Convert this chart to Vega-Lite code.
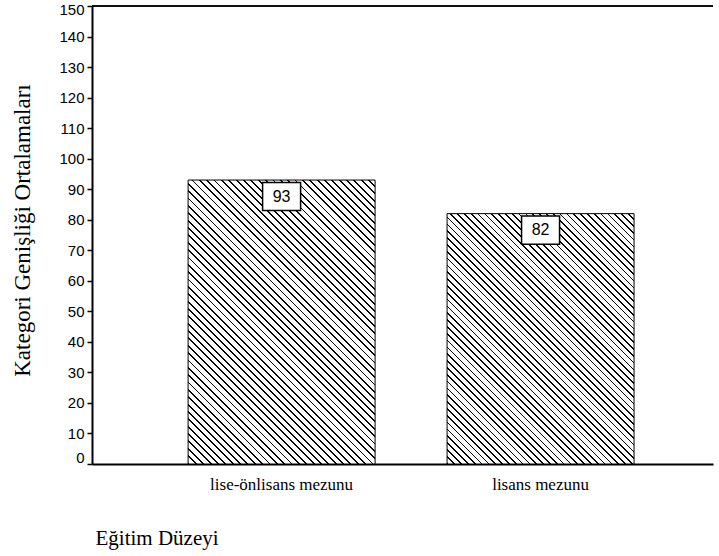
{
"$schema": "https://vega.github.io/schema/vega-lite/v6.json",
"width": 621, "height": 458,
"autosize": "none",
"padding": {"left": 92, "top": 6, "right": 6, "bottom": 92},
"background": "white",
"config": {
"view": {"stroke": null},
"axisY": {"grid": false, "domainColor": "black", "domainWidth": 2, "tickColor": "black", "tickSize": 5, "tickWidth": 1.5,
"labelFont": "Liberation Sans", "labelFontSize": 15, "labelColor": "black", "labelPadding": 3,
"titleFont": "Liberation Serif", "titleFontSize": 23, "titleFontWeight": "normal", "titleColor": "black"},
"axisX": {"grid": false, "ticks": false, "domainColor": "black", "domainWidth": 2, "labelAngle": 0,
"labelFont": "Liberation Serif", "labelFontSize": 17, "labelColor": "black", "labelPadding": 12,
"titleFont": "Liberation Serif", "titleFontSize": 21, "titleFontWeight": "normal", "titleColor": "black"}
},
"datasets": {
"stripes": [0]
},
"data": {"values": [{"level": "lise-önlisans mezunu", "mean": 93}, {"level": "lisans mezunu", "mean": 82}]},
"encoding": {
"x": {"field": "level", "type": "nominal", "sort": null,
"scale": {"domain": ["lise-önlisans mezunu", "lisans mezunu"], "paddingInner": 0.278, "paddingOuter": 0.338, "align": 0.549},
"axis": {"title": "Eğitim Düzeyi", "labelFont": "Liberation Serif", "labelFontSize": 17, "titleAnchor": "start", "titleAlign": "left", "titleX": 3, "titleY": 80, "titleBaseline": "alphabetic"}},
"y": {"field": "mean", "type": "quantitative", "scale": {"domain": [0, 150], "nice": false, "zero": true},
"axis": {"values": [0,10,20,30,40,50,60,70,80,90,100,110,120,130,140,150],
"labelOffset": {"condition": [{"test": "datum.value == 150", "value": 3}, {"test": "datum.value == 0", "value": -7}], "value": 0},
"title": "Kategori Genişliği Ortalamaları", "titleX": -70, "titleY": 224, "titleAlign": "center", "titleBaseline": "middle", "titleAngle": -90}}
},
"layer": [
{
"transform": [{"filter": "datum.level == 'lise-önlisans mezunu'"}],
"mark": {"type": "bar", "stroke": "black", "strokeWidth": 1,
"fill": {"gradient": "linear", "x1": 0, "y1": 1, "x2": 0.76174, "y2": -0.15688, "stops": [
{"offset":0,"color":"#000"},{"offset":0.00390625,"color":"#000"},{"offset":0.00390625,"color":"#fff"},
{"offset":0.015625,"color":"#fff"},{"offset":0.015625,"color":"#000"},{"offset":0.01953125,"color":"#000"},{"offset":0.01953125,"color":"#fff"},
{"offset":0.03125,"color":"#fff"},{"offset":0.03125,"color":"#000"},{"offset":0.03515625,"color":"#000"},{"offset":0.03515625,"color":"#fff"},
{"offset":0.046875,"color":"#fff"},{"offset":0.046875,"color":"#000"},{"offset":0.05078125,"color":"#000"},{"offset":0.05078125,"color":"#fff"},
{"offset":0.0625,"color":"#fff"},{"offset":0.0625,"color":"#000"},{"offset":0.06640625,"color":"#000"},{"offset":0.06640625,"color":"#fff"},
{"offset":0.078125,"color":"#fff"},{"offset":0.078125,"color":"#000"},{"offset":0.08203125,"color":"#000"},{"offset":0.08203125,"color":"#fff"},
{"offset":0.09375,"color":"#fff"},{"offset":0.09375,"color":"#000"},{"offset":0.09765625,"color":"#000"},{"offset":0.09765625,"color":"#fff"},
{"offset":0.109375,"color":"#fff"},{"offset":0.109375,"color":"#000"},{"offset":0.11328125,"color":"#000"},{"offset":0.11328125,"color":"#fff"},
{"offset":0.125,"color":"#fff"},{"offset":0.125,"color":"#000"},{"offset":0.12890625,"color":"#000"},{"offset":0.12890625,"color":"#fff"},
{"offset":0.140625,"color":"#fff"},{"offset":0.140625,"color":"#000"},{"offset":0.14453125,"color":"#000"},{"offset":0.14453125,"color":"#fff"},
{"offset":0.15625,"color":"#fff"},{"offset":0.15625,"color":"#000"},{"offset":0.16015625,"color":"#000"},{"offset":0.16015625,"color":"#fff"},
{"offset":0.171875,"color":"#fff"},{"offset":0.171875,"color":"#000"},{"offset":0.17578125,"color":"#000"},{"offset":0.17578125,"color":"#fff"},
{"offset":0.1875,"color":"#fff"},{"offset":0.1875,"color":"#000"},{"offset":0.19140625,"color":"#000"},{"offset":0.19140625,"color":"#fff"},
{"offset":0.203125,"color":"#fff"},{"offset":0.203125,"color":"#000"},{"offset":0.20703125,"color":"#000"},{"offset":0.20703125,"color":"#fff"},
{"offset":0.21875,"color":"#fff"},{"offset":0.21875,"color":"#000"},{"offset":0.22265625,"color":"#000"},{"offset":0.22265625,"color":"#fff"},
{"offset":0.234375,"color":"#fff"},{"offset":0.234375,"color":"#000"},{"offset":0.23828125,"color":"#000"},{"offset":0.23828125,"color":"#fff"},
{"offset":0.25,"color":"#fff"},{"offset":0.25,"color":"#000"},{"offset":0.25390625,"color":"#000"},{"offset":0.25390625,"color":"#fff"},
{"offset":0.265625,"color":"#fff"},{"offset":0.265625,"color":"#000"},{"offset":0.26953125,"color":"#000"},{"offset":0.26953125,"color":"#fff"},
{"offset":0.28125,"color":"#fff"},{"offset":0.28125,"color":"#000"},{"offset":0.28515625,"color":"#000"},{"offset":0.28515625,"color":"#fff"},
{"offset":0.296875,"color":"#fff"},{"offset":0.296875,"color":"#000"},{"offset":0.30078125,"color":"#000"},{"offset":0.30078125,"color":"#fff"},
{"offset":0.3125,"color":"#fff"},{"offset":0.3125,"color":"#000"},{"offset":0.31640625,"color":"#000"},{"offset":0.31640625,"color":"#fff"},
{"offset":0.328125,"color":"#fff"},{"offset":0.328125,"color":"#000"},{"offset":0.33203125,"color":"#000"},{"offset":0.33203125,"color":"#fff"},
{"offset":0.34375,"color":"#fff"},{"offset":0.34375,"color":"#000"},{"offset":0.34765625,"color":"#000"},{"offset":0.34765625,"color":"#fff"},
{"offset":0.359375,"color":"#fff"},{"offset":0.359375,"color":"#000"},{"offset":0.36328125,"color":"#000"},{"offset":0.36328125,"color":"#fff"},
{"offset":0.375,"color":"#fff"},{"offset":0.375,"color":"#000"},{"offset":0.37890625,"color":"#000"},{"offset":0.37890625,"color":"#fff"},
{"offset":0.390625,"color":"#fff"},{"offset":0.390625,"color":"#000"},{"offset":0.39453125,"color":"#000"},{"offset":0.39453125,"color":"#fff"},
{"offset":0.40625,"color":"#fff"},{"offset":0.40625,"color":"#000"},{"offset":0.41015625,"color":"#000"},{"offset":0.41015625,"color":"#fff"},
{"offset":0.421875,"color":"#fff"},{"offset":0.421875,"color":"#000"},{"offset":0.42578125,"color":"#000"},{"offset":0.42578125,"color":"#fff"},
{"offset":0.4375,"color":"#fff"},{"offset":0.4375,"color":"#000"},{"offset":0.44140625,"color":"#000"},{"offset":0.44140625,"color":"#fff"},
{"offset":0.453125,"color":"#fff"},{"offset":0.453125,"color":"#000"},{"offset":0.45703125,"color":"#000"},{"offset":0.45703125,"color":"#fff"},
{"offset":0.46875,"color":"#fff"},{"offset":0.46875,"color":"#000"},{"offset":0.47265625,"color":"#000"},{"offset":0.47265625,"color":"#fff"},
{"offset":0.484375,"color":"#fff"},{"offset":0.484375,"color":"#000"},{"offset":0.48828125,"color":"#000"},{"offset":0.48828125,"color":"#fff"},
{"offset":0.5,"color":"#fff"},{"offset":0.5,"color":"#000"},{"offset":0.50390625,"color":"#000"},{"offset":0.50390625,"color":"#fff"},
{"offset":0.515625,"color":"#fff"},{"offset":0.515625,"color":"#000"},{"offset":0.51953125,"color":"#000"},{"offset":0.51953125,"color":"#fff"},
{"offset":0.53125,"color":"#fff"},{"offset":0.53125,"color":"#000"},{"offset":0.53515625,"color":"#000"},{"offset":0.53515625,"color":"#fff"},
{"offset":0.546875,"color":"#fff"},{"offset":0.546875,"color":"#000"},{"offset":0.55078125,"color":"#000"},{"offset":0.55078125,"color":"#fff"},
{"offset":0.5625,"color":"#fff"},{"offset":0.5625,"color":"#000"},{"offset":0.56640625,"color":"#000"},{"offset":0.56640625,"color":"#fff"},
{"offset":0.578125,"color":"#fff"},{"offset":0.578125,"color":"#000"},{"offset":0.58203125,"color":"#000"},{"offset":0.58203125,"color":"#fff"},
{"offset":0.59375,"color":"#fff"},{"offset":0.59375,"color":"#000"},{"offset":0.59765625,"color":"#000"},{"offset":0.59765625,"color":"#fff"},
{"offset":0.609375,"color":"#fff"},{"offset":0.609375,"color":"#000"},{"offset":0.61328125,"color":"#000"},{"offset":0.61328125,"color":"#fff"},
{"offset":0.625,"color":"#fff"},{"offset":0.625,"color":"#000"},{"offset":0.62890625,"color":"#000"},{"offset":0.62890625,"color":"#fff"},
{"offset":0.640625,"color":"#fff"},{"offset":0.640625,"color":"#000"},{"offset":0.64453125,"color":"#000"},{"offset":0.64453125,"color":"#fff"},
{"offset":0.65625,"color":"#fff"},{"offset":0.65625,"color":"#000"},{"offset":0.66015625,"color":"#000"},{"offset":0.66015625,"color":"#fff"},
{"offset":0.671875,"color":"#fff"},{"offset":0.671875,"color":"#000"},{"offset":0.67578125,"color":"#000"},{"offset":0.67578125,"color":"#fff"},
{"offset":0.6875,"color":"#fff"},{"offset":0.6875,"color":"#000"},{"offset":0.69140625,"color":"#000"},{"offset":0.69140625,"color":"#fff"},
{"offset":0.703125,"color":"#fff"},{"offset":0.703125,"color":"#000"},{"offset":0.70703125,"color":"#000"},{"offset":0.70703125,"color":"#fff"},
{"offset":0.71875,"color":"#fff"},{"offset":0.71875,"color":"#000"},{"offset":0.72265625,"color":"#000"},{"offset":0.72265625,"color":"#fff"},
{"offset":0.734375,"color":"#fff"},{"offset":0.734375,"color":"#000"},{"offset":0.73828125,"color":"#000"},{"offset":0.73828125,"color":"#fff"},
{"offset":0.75,"color":"#fff"},{"offset":0.75,"color":"#000"},{"offset":0.75390625,"color":"#000"},{"offset":0.75390625,"color":"#fff"},
{"offset":0.765625,"color":"#fff"},{"offset":0.765625,"color":"#000"},{"offset":0.76953125,"color":"#000"},{"offset":0.76953125,"color":"#fff"},
{"offset":0.78125,"color":"#fff"},{"offset":0.78125,"color":"#000"},{"offset":0.78515625,"color":"#000"},{"offset":0.78515625,"color":"#fff"},
{"offset":0.796875,"color":"#fff"},{"offset":0.796875,"color":"#000"},{"offset":0.80078125,"color":"#000"},{"offset":0.80078125,"color":"#fff"},
{"offset":0.8125,"color":"#fff"},{"offset":0.8125,"color":"#000"},{"offset":0.81640625,"color":"#000"},{"offset":0.81640625,"color":"#fff"},
{"offset":0.828125,"color":"#fff"},{"offset":0.828125,"color":"#000"},{"offset":0.83203125,"color":"#000"},{"offset":0.83203125,"color":"#fff"},
{"offset":0.84375,"color":"#fff"},{"offset":0.84375,"color":"#000"},{"offset":0.84765625,"color":"#000"},{"offset":0.84765625,"color":"#fff"},
{"offset":0.859375,"color":"#fff"},{"offset":0.859375,"color":"#000"},{"offset":0.86328125,"color":"#000"},{"offset":0.86328125,"color":"#fff"},
{"offset":0.875,"color":"#fff"},{"offset":0.875,"color":"#000"},{"offset":0.87890625,"color":"#000"},{"offset":0.87890625,"color":"#fff"},
{"offset":0.890625,"color":"#fff"},{"offset":0.890625,"color":"#000"},{"offset":0.89453125,"color":"#000"},{"offset":0.89453125,"color":"#fff"},
{"offset":0.90625,"color":"#fff"},{"offset":0.90625,"color":"#000"},{"offset":0.91015625,"color":"#000"},{"offset":0.91015625,"color":"#fff"},
{"offset":0.921875,"color":"#fff"},{"offset":0.921875,"color":"#000"},{"offset":0.92578125,"color":"#000"},{"offset":0.92578125,"color":"#fff"},
{"offset":0.9375,"color":"#fff"},{"offset":0.9375,"color":"#000"},{"offset":0.94140625,"color":"#000"},{"offset":0.94140625,"color":"#fff"},
{"offset":0.953125,"color":"#fff"},{"offset":0.953125,"color":"#000"},{"offset":0.95703125,"color":"#000"},{"offset":0.95703125,"color":"#fff"},
{"offset":0.96875,"color":"#fff"},{"offset":0.96875,"color":"#000"},{"offset":0.97265625,"color":"#000"},{"offset":0.97265625,"color":"#fff"},
{"offset":0.984375,"color":"#fff"},{"offset":0.984375,"color":"#000"},{"offset":0.98828125,"color":"#000"},{"offset":0.98828125,"color":"#fff"},
{"offset":1,"color":"#fff"}
]}}
},
{
"transform": [{"filter": "datum.level == 'lisans mezunu'"}],
"mark": {"type": "bar", "stroke": "black", "strokeWidth": 1,
"fill": {"gradient": "linear", "x1": 0, "y1": 1, "x2": 0.83744, "y2": -0.1214, "stops": [
{"offset":0,"color":"#000"},{"offset":0.00390625,"color":"#000"},{"offset":0.00390625,"color":"#fff"},
{"offset":0.015625,"color":"#fff"},{"offset":0.015625,"color":"#000"},{"offset":0.01953125,"color":"#000"},{"offset":0.01953125,"color":"#fff"},
{"offset":0.03125,"color":"#fff"},{"offset":0.03125,"color":"#000"},{"offset":0.03515625,"color":"#000"},{"offset":0.03515625,"color":"#fff"},
{"offset":0.046875,"color":"#fff"},{"offset":0.046875,"color":"#000"},{"offset":0.05078125,"color":"#000"},{"offset":0.05078125,"color":"#fff"},
{"offset":0.0625,"color":"#fff"},{"offset":0.0625,"color":"#000"},{"offset":0.06640625,"color":"#000"},{"offset":0.06640625,"color":"#fff"},
{"offset":0.078125,"color":"#fff"},{"offset":0.078125,"color":"#000"},{"offset":0.08203125,"color":"#000"},{"offset":0.08203125,"color":"#fff"},
{"offset":0.09375,"color":"#fff"},{"offset":0.09375,"color":"#000"},{"offset":0.09765625,"color":"#000"},{"offset":0.09765625,"color":"#fff"},
{"offset":0.109375,"color":"#fff"},{"offset":0.109375,"color":"#000"},{"offset":0.11328125,"color":"#000"},{"offset":0.11328125,"color":"#fff"},
{"offset":0.125,"color":"#fff"},{"offset":0.125,"color":"#000"},{"offset":0.12890625,"color":"#000"},{"offset":0.12890625,"color":"#fff"},
{"offset":0.140625,"color":"#fff"},{"offset":0.140625,"color":"#000"},{"offset":0.14453125,"color":"#000"},{"offset":0.14453125,"color":"#fff"},
{"offset":0.15625,"color":"#fff"},{"offset":0.15625,"color":"#000"},{"offset":0.16015625,"color":"#000"},{"offset":0.16015625,"color":"#fff"},
{"offset":0.171875,"color":"#fff"},{"offset":0.171875,"color":"#000"},{"offset":0.17578125,"color":"#000"},{"offset":0.17578125,"color":"#fff"},
{"offset":0.1875,"color":"#fff"},{"offset":0.1875,"color":"#000"},{"offset":0.19140625,"color":"#000"},{"offset":0.19140625,"color":"#fff"},
{"offset":0.203125,"color":"#fff"},{"offset":0.203125,"color":"#000"},{"offset":0.20703125,"color":"#000"},{"offset":0.20703125,"color":"#fff"},
{"offset":0.21875,"color":"#fff"},{"offset":0.21875,"color":"#000"},{"offset":0.22265625,"color":"#000"},{"offset":0.22265625,"color":"#fff"},
{"offset":0.234375,"color":"#fff"},{"offset":0.234375,"color":"#000"},{"offset":0.23828125,"color":"#000"},{"offset":0.23828125,"color":"#fff"},
{"offset":0.25,"color":"#fff"},{"offset":0.25,"color":"#000"},{"offset":0.25390625,"color":"#000"},{"offset":0.25390625,"color":"#fff"},
{"offset":0.265625,"color":"#fff"},{"offset":0.265625,"color":"#000"},{"offset":0.26953125,"color":"#000"},{"offset":0.26953125,"color":"#fff"},
{"offset":0.28125,"color":"#fff"},{"offset":0.28125,"color":"#000"},{"offset":0.28515625,"color":"#000"},{"offset":0.28515625,"color":"#fff"},
{"offset":0.296875,"color":"#fff"},{"offset":0.296875,"color":"#000"},{"offset":0.30078125,"color":"#000"},{"offset":0.30078125,"color":"#fff"},
{"offset":0.3125,"color":"#fff"},{"offset":0.3125,"color":"#000"},{"offset":0.31640625,"color":"#000"},{"offset":0.31640625,"color":"#fff"},
{"offset":0.328125,"color":"#fff"},{"offset":0.328125,"color":"#000"},{"offset":0.33203125,"color":"#000"},{"offset":0.33203125,"color":"#fff"},
{"offset":0.34375,"color":"#fff"},{"offset":0.34375,"color":"#000"},{"offset":0.34765625,"color":"#000"},{"offset":0.34765625,"color":"#fff"},
{"offset":0.359375,"color":"#fff"},{"offset":0.359375,"color":"#000"},{"offset":0.36328125,"color":"#000"},{"offset":0.36328125,"color":"#fff"},
{"offset":0.375,"color":"#fff"},{"offset":0.375,"color":"#000"},{"offset":0.37890625,"color":"#000"},{"offset":0.37890625,"color":"#fff"},
{"offset":0.390625,"color":"#fff"},{"offset":0.390625,"color":"#000"},{"offset":0.39453125,"color":"#000"},{"offset":0.39453125,"color":"#fff"},
{"offset":0.40625,"color":"#fff"},{"offset":0.40625,"color":"#000"},{"offset":0.41015625,"color":"#000"},{"offset":0.41015625,"color":"#fff"},
{"offset":0.421875,"color":"#fff"},{"offset":0.421875,"color":"#000"},{"offset":0.42578125,"color":"#000"},{"offset":0.42578125,"color":"#fff"},
{"offset":0.4375,"color":"#fff"},{"offset":0.4375,"color":"#000"},{"offset":0.44140625,"color":"#000"},{"offset":0.44140625,"color":"#fff"},
{"offset":0.453125,"color":"#fff"},{"offset":0.453125,"color":"#000"},{"offset":0.45703125,"color":"#000"},{"offset":0.45703125,"color":"#fff"},
{"offset":0.46875,"color":"#fff"},{"offset":0.46875,"color":"#000"},{"offset":0.47265625,"color":"#000"},{"offset":0.47265625,"color":"#fff"},
{"offset":0.484375,"color":"#fff"},{"offset":0.484375,"color":"#000"},{"offset":0.48828125,"color":"#000"},{"offset":0.48828125,"color":"#fff"},
{"offset":0.5,"color":"#fff"},{"offset":0.5,"color":"#000"},{"offset":0.50390625,"color":"#000"},{"offset":0.50390625,"color":"#fff"},
{"offset":0.515625,"color":"#fff"},{"offset":0.515625,"color":"#000"},{"offset":0.51953125,"color":"#000"},{"offset":0.51953125,"color":"#fff"},
{"offset":0.53125,"color":"#fff"},{"offset":0.53125,"color":"#000"},{"offset":0.53515625,"color":"#000"},{"offset":0.53515625,"color":"#fff"},
{"offset":0.546875,"color":"#fff"},{"offset":0.546875,"color":"#000"},{"offset":0.55078125,"color":"#000"},{"offset":0.55078125,"color":"#fff"},
{"offset":0.5625,"color":"#fff"},{"offset":0.5625,"color":"#000"},{"offset":0.56640625,"color":"#000"},{"offset":0.56640625,"color":"#fff"},
{"offset":0.578125,"color":"#fff"},{"offset":0.578125,"color":"#000"},{"offset":0.58203125,"color":"#000"},{"offset":0.58203125,"color":"#fff"},
{"offset":0.59375,"color":"#fff"},{"offset":0.59375,"color":"#000"},{"offset":0.59765625,"color":"#000"},{"offset":0.59765625,"color":"#fff"},
{"offset":0.609375,"color":"#fff"},{"offset":0.609375,"color":"#000"},{"offset":0.61328125,"color":"#000"},{"offset":0.61328125,"color":"#fff"},
{"offset":0.625,"color":"#fff"},{"offset":0.625,"color":"#000"},{"offset":0.62890625,"color":"#000"},{"offset":0.62890625,"color":"#fff"},
{"offset":0.640625,"color":"#fff"},{"offset":0.640625,"color":"#000"},{"offset":0.64453125,"color":"#000"},{"offset":0.64453125,"color":"#fff"},
{"offset":0.65625,"color":"#fff"},{"offset":0.65625,"color":"#000"},{"offset":0.66015625,"color":"#000"},{"offset":0.66015625,"color":"#fff"},
{"offset":0.671875,"color":"#fff"},{"offset":0.671875,"color":"#000"},{"offset":0.67578125,"color":"#000"},{"offset":0.67578125,"color":"#fff"},
{"offset":0.6875,"color":"#fff"},{"offset":0.6875,"color":"#000"},{"offset":0.69140625,"color":"#000"},{"offset":0.69140625,"color":"#fff"},
{"offset":0.703125,"color":"#fff"},{"offset":0.703125,"color":"#000"},{"offset":0.70703125,"color":"#000"},{"offset":0.70703125,"color":"#fff"},
{"offset":0.71875,"color":"#fff"},{"offset":0.71875,"color":"#000"},{"offset":0.72265625,"color":"#000"},{"offset":0.72265625,"color":"#fff"},
{"offset":0.734375,"color":"#fff"},{"offset":0.734375,"color":"#000"},{"offset":0.73828125,"color":"#000"},{"offset":0.73828125,"color":"#fff"},
{"offset":0.75,"color":"#fff"},{"offset":0.75,"color":"#000"},{"offset":0.75390625,"color":"#000"},{"offset":0.75390625,"color":"#fff"},
{"offset":0.765625,"color":"#fff"},{"offset":0.765625,"color":"#000"},{"offset":0.76953125,"color":"#000"},{"offset":0.76953125,"color":"#fff"},
{"offset":0.78125,"color":"#fff"},{"offset":0.78125,"color":"#000"},{"offset":0.78515625,"color":"#000"},{"offset":0.78515625,"color":"#fff"},
{"offset":0.796875,"color":"#fff"},{"offset":0.796875,"color":"#000"},{"offset":0.80078125,"color":"#000"},{"offset":0.80078125,"color":"#fff"},
{"offset":0.8125,"color":"#fff"},{"offset":0.8125,"color":"#000"},{"offset":0.81640625,"color":"#000"},{"offset":0.81640625,"color":"#fff"},
{"offset":0.828125,"color":"#fff"},{"offset":0.828125,"color":"#000"},{"offset":0.83203125,"color":"#000"},{"offset":0.83203125,"color":"#fff"},
{"offset":0.84375,"color":"#fff"},{"offset":0.84375,"color":"#000"},{"offset":0.84765625,"color":"#000"},{"offset":0.84765625,"color":"#fff"},
{"offset":0.859375,"color":"#fff"},{"offset":0.859375,"color":"#000"},{"offset":0.86328125,"color":"#000"},{"offset":0.86328125,"color":"#fff"},
{"offset":0.875,"color":"#fff"},{"offset":0.875,"color":"#000"},{"offset":0.87890625,"color":"#000"},{"offset":0.87890625,"color":"#fff"},
{"offset":0.890625,"color":"#fff"},{"offset":0.890625,"color":"#000"},{"offset":0.89453125,"color":"#000"},{"offset":0.89453125,"color":"#fff"},
{"offset":0.90625,"color":"#fff"},{"offset":0.90625,"color":"#000"},{"offset":0.91015625,"color":"#000"},{"offset":0.91015625,"color":"#fff"},
{"offset":0.921875,"color":"#fff"},{"offset":0.921875,"color":"#000"},{"offset":0.92578125,"color":"#000"},{"offset":0.92578125,"color":"#fff"},
{"offset":0.9375,"color":"#fff"},{"offset":0.9375,"color":"#000"},{"offset":0.94140625,"color":"#000"},{"offset":0.94140625,"color":"#fff"},
{"offset":0.953125,"color":"#fff"},{"offset":0.953125,"color":"#000"},{"offset":0.95703125,"color":"#000"},{"offset":0.95703125,"color":"#fff"},
{"offset":0.96875,"color":"#fff"},{"offset":0.96875,"color":"#000"},{"offset":0.97265625,"color":"#000"},{"offset":0.97265625,"color":"#fff"},
{"offset":0.984375,"color":"#fff"},{"offset":0.984375,"color":"#000"},{"offset":0.98828125,"color":"#000"},{"offset":0.98828125,"color":"#fff"},
{"offset":1,"color":"#fff"}
]}}
},
{
"mark": {"type": "rule", "color": "black", "strokeWidth": 1.5},
"encoding": {
"x": {"value": 0},
"x2": {"value": 621},
"y": {"datum": 150, "type": "quantitative", "scale": {"domain": [0, 150], "nice": false, "zero": true},
"axis": {"values": [0,10,20,30,40,50,60,70,80,90,100,110,120,130,140,150],
"labelOffset": {"condition": [{"test": "datum.value == 150", "value": 3}, {"test": "datum.value == 0", "value": -7}], "value": 0},
"title": "Kategori Genişliği Ortalamaları", "titleX": -70, "titleY": 224, "titleAlign": "center", "titleBaseline": "middle", "titleAngle": -90}}
}
},
{
"mark": {"type": "point", "shape": "M-1,-0.737L1,-0.737L1,0.737L-1,0.737Z", "size": 1444, "filled": true, "fill": "white", "stroke": "black", "strokeWidth": 1.5, "opacity": 1, "yOffset": 16.5}
},
{
"mark": {"type": "text", "font": "Liberation Sans", "fontSize": 16, "color": "black", "baseline": "middle", "yOffset": 16.5},
"encoding": {"text": {"field": "mean", "type": "quantitative"}}
}
]
}
